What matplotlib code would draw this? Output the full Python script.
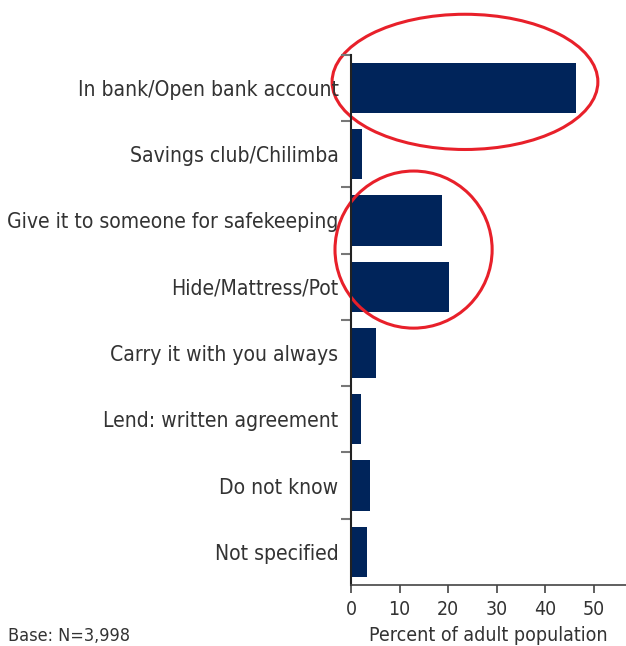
import matplotlib.pyplot as plt
from matplotlib.patches import Ellipse

categories = ['In bank/Open bank account', 'Savings club/Chilimba',
              'Give it to someone for safekeeping', 'Hide/Mattress/Pot',
              'Carry it with you always', 'Lend: written agreement',
              'Do not know', 'Not specified']
percent = [46.4, 2.2, 18.8, 20.2, 5.1, 2.0, 3.9, 3.3]
xticks = [0, 10, 20, 30, 40, 50]

plt.rcParams['font.family'] = ['DejaVu Sans']
plt.rcParams['font.stretch'] = 'condensed'

navy = '#00245a'
txt = '#333333'

fig = plt.figure(figsize=(6.26, 6.46), dpi=100)
ax = fig.add_axes([351/626, 1-585/646, 275/626, (585-54.7)/646])

pos = list(range(len(categories)))
ax.barh(pos, percent, height=0.76, color=navy)
ax.set_ylim(len(categories)-0.5, -0.5)
ax.set_xlim(0, 56.7)

ax.set_yticks(pos)
ax.set_yticklabels(categories, fontsize=15.1, color=txt)
ax.tick_params(axis='y', length=0, pad=9)
# boundary ticks between categories
ax.set_yticks([p + 0.5 for p in pos[:-1]] + [-0.5], minor=True)
ax.tick_params(axis='y', which='minor', length=7, width=1.5, color='#777777', direction='out')

ax.set_xticks(xticks)
ax.set_xticklabels([str(t) for t in xticks], fontsize=14, color=txt)
ax.tick_params(axis='x', length=6, width=1.2, color='#444444', pad=5)
ax.set_xlabel('Percent of adult population', fontsize=14, color=txt, labelpad=5)

for s in ['top', 'right']:
    ax.spines[s].set_visible(False)
ax.spines['left'].set_color('#222222')
ax.spines['left'].set_linewidth(1.5)
ax.spines['bottom'].set_color('#444444')
ax.spines['bottom'].set_linewidth(1.2)

# red highlight rings
ax.add_patch(Ellipse((23.5, -0.09), 54.8, 2.04, fill=False, ec='#e8202a', lw=2.2, clip_on=False))
ax.add_patch(Ellipse((12.9, 2.44), 32.4, 2.37, fill=False, ec='#e8202a', lw=2.2, clip_on=False))

fig.text(8/626, 1-627/646, 'Base: N=3,998', fontsize=13, color=txt, va='top', ha='left')

fig.savefig('out.png', dpi=100)
